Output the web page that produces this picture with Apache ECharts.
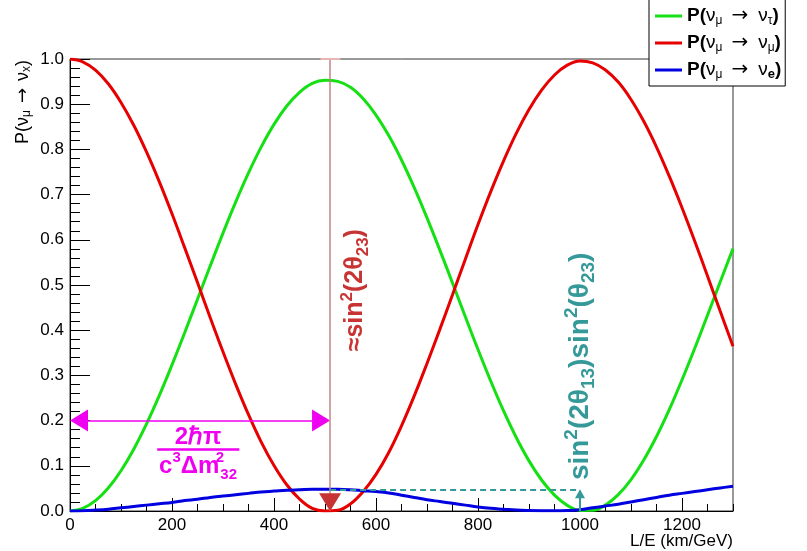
<!DOCTYPE html>
<html><head><meta charset="utf-8">
<script src="https://cdn.jsdelivr.net/npm/echarts@6/dist/echarts.min.js"></script>
<style>html,body{margin:0;padding:0;background:#fff}#c{width:807px;height:551px}</style>
</head><body><div id="c"></div>
<script>
// L/E values (km/GeV)
const L = [0,25,50,75,100,125,150,175,200,225,250,275,300,325,350,375,400,425,450,475,500,525,550,575,600,625,650,675,700,725,750,775,800,825,850,875,900,925,950,975,1000,1025,1050,1075,1100,1125,1150,1175,1200,1225,1250,1275,1300];
// P(nu_mu -> nu_tau)
const pTau = [0,0.0057,0.0228,0.0508,0.0891,0.1367,0.1926,0.2552,0.3233,0.3949,0.4686,0.5424,0.6148,0.6838,0.7479,0.8055,0.8553,0.8959,0.9264,0.9462,0.9530,0.9505,0.9373,0.9119,0.8760,0.8305,0.7766,0.7154,0.6485,0.5777,0.5046,0.4305,0.3573,0.2874,0.2219,0.1626,0.1109,0.0680,0.0350,0.0125,0.0013,0.0016,0.0132,0.0361,0.0695,0.1128,0.1648,0.2243,0.2900,0.3600,0.4332,0.5072,0.5805];
// P(nu_mu -> nu_mu)
const pMu = [1.000,0.9938,0.9752,0.9452,0.9039,0.8533,0.7944,0.7288,0.6577,0.5821,0.5054,0.4276,0.3522,0.2802,0.2131,0.1525,0.1007,0.0581,0.0266,0.0058,0.0000,0.0015,0.0157,0.0431,0.0810,0.1295,0.1884,0.2546,0.3265,0.4013,0.4784,0.5565,0.6337,0.7066,0.7741,0.8354,0.8881,0.9315,0.9647,0.9865,0.9957,0.9914,0.9758,0.9489,0.9105,0.8622,0.8052,0.7407,0.6710,0.5970,0.5198,0.4418,0.3645];
// P(nu_mu -> nu_e)
const pE = [0,0.0005,0.002,0.004,0.007,0.010,0.013,0.016,0.019,0.023,0.026,0.030,0.033,0.036,0.039,0.042,0.044,0.046,0.047,0.048,0.048,0.048,0.047,0.045,0.043,0.040,0.035,0.030,0.025,0.021,0.017,0.013,0.009,0.006,0.004,0.002,0.001,0.0005,0.0003,0.001,0.003,0.007,0.011,0.015,0.020,0.025,0.030,0.035,0.039,0.043,0.047,0.051,0.055];
// annotation values
const peakL = 510, minL = 1000, periodArrowY = 0.2, sin13Y = 0.048;

const FONT = 'Liberation Sans, Arial, Helvetica, sans-serif';
const ARROWFONT = 'DejaVu Sans, sans-serif';
const GREEN = '#14e014', RED = '#e60000', BLUE = '#0000e0';
const MAG = '#f000f0', TEAL = '#369999', DRED = '#c83434', ROSY = '#c48585';

const chart = echarts.init(document.getElementById('c'), null, {renderer: 'canvas'});
const toPairs = arr => L.map((x, i) => [x, arr[i]]);

const legendText = {
  tau: '{b|P(}{n|ν}{s|μ}{a|→}{n|ν}{s|τ}{b|)}',
  mu:  '{b|P(}{n|ν}{s|μ}{a|→}{n|ν}{s|μ}{b|)}',
  e:   '{b|P(}{n|ν}{s|μ}{a|→}{n|ν}{se|e}{b|)}'
};

function richSet(color, main, small) {
  return {
    d: {fontSize: main, fontWeight: 'bold', color: color, fontFamily: FONT, lineHeight: main + 8},
    u: {fontSize: small, fontWeight: 'bold', color: color, fontFamily: FONT, lineHeight: main + 8, verticalAlign: 'top'},
    u0: {fontSize: small, fontWeight: 'bold', color: color, fontFamily: FONT, lineHeight: main + 8, verticalAlign: 'top', width: 1},
    l: {fontSize: small, fontWeight: 'bold', color: color, fontFamily: FONT, lineHeight: main + 8, verticalAlign: 'bottom'}
  };
}
const hidden = {symbol: 'circle', symbolSize: 1, itemStyle: {color: 'rgba(0,0,0,0)'}};

const option = {
  animation: false,
  textStyle: {fontFamily: FONT},
  grid: {left: 70, right: 74, top: 59, bottom: 40, show: true, borderColor: '#333', borderWidth: 1, backgroundColor: 'transparent'},
  legend: {
    data: ['tau', 'mu', 'e'], orient: 'vertical', left: 649, top: -2,
    padding: [8, 4, 5, 6], itemGap: 6, itemWidth: 27, itemHeight: 3, icon: 'rect',
    backgroundColor: '#fff', borderColor: '#000', borderWidth: 1, z: 10,
    formatter: n => legendText[n],
    textStyle: {
      rich: {
        b: {fontSize: 19, fontWeight: 'bold', color: '#000', fontFamily: FONT, lineHeight: 22},
        n: {fontSize: 19, color: '#000', fontFamily: FONT, lineHeight: 22},
        a: {fontSize: 20, color: '#000', fontFamily: ARROWFONT, lineHeight: 22, padding: [0, 10, 0, 9]},
        s: {fontSize: 12, color: '#000', fontFamily: FONT, lineHeight: 22, verticalAlign: 'bottom'},
        se: {fontSize: 13, fontWeight: 'bold', color: '#000', fontFamily: FONT, lineHeight: 22, verticalAlign: 'bottom'}
      }
    }
  },
  xAxis: [
    {type: 'value', min: 0, max: 1300, interval: 200, position: 'bottom',
     axisLine: {show: true, lineStyle: {color: '#000', width: 1}},
     axisTick: {show: true, inside: true, length: 13, lineStyle: {color: '#000'}},
     axisLabel: {show: true, fontSize: 17, color: '#000', margin: 6, fontFamily: FONT, showMaxLabel: false,
       formatter: v => String(v)},
     splitLine: {show: false}},
    {type: 'value', min: 0, max: 1300, interval: 50, position: 'bottom',
     axisLine: {show: false}, axisLabel: {show: false}, splitLine: {show: false},
     axisTick: {show: true, inside: true, length: 7, lineStyle: {color: '#000'}}}
  ],
  yAxis: {type: 'value', min: 0, max: 1, interval: 0.1,
    axisLine: {show: true, lineStyle: {color: '#000', width: 1}},
    axisTick: {show: true, inside: true, length: 20, lineStyle: {color: '#000'}},
    minorTick: {show: true, splitNumber: 5, length: 10, lineStyle: {color: '#000'}},
    axisLabel: {fontSize: 17, color: '#000', margin: 6, fontFamily: FONT, formatter: v => v.toFixed(1)},
    splitLine: {show: false}, minorSplitLine: {show: false}},
  graphic: [
    {type: 'text', x: 23, y: 60, rotation: Math.PI / 2, z: 20,
     style: {text: '{n|P(ν}{s|μ}{a|→}{n|ν}{s|x}{n|)}', align: 'right', verticalAlign: 'middle',
       rich: {n: {fontSize: 18, fill: '#000', fontFamily: FONT, lineHeight: 20},
              a: {fontSize: 18, fill: '#000', fontFamily: ARROWFONT, lineHeight: 20, padding: [0, 7, 0, 7]},
              s: {fontSize: 12, fill: '#000', fontFamily: FONT, lineHeight: 20, verticalAlign: 'bottom'}}}},
    {type: 'text', x: 733, y: 541, z: 20,
     style: {text: 'L/E (km/GeV)', align: 'right', verticalAlign: 'middle', fontSize: 17, fill: '#000', fontFamily: FONT}}
  ],
  series: [
    {name: 'tau', type: 'line', data: toPairs(pTau), smooth: 0.4, showSymbol: false, clip: true,
     lineStyle: {color: GREEN, width: 3}, itemStyle: {color: GREEN}, z: 3},
    {name: 'mu', type: 'line', data: toPairs(pMu), smooth: 0.4, showSymbol: false, clip: true,
     lineStyle: {color: RED, width: 3}, itemStyle: {color: RED}, z: 3},
    {name: 'e', type: 'line', data: toPairs(pE), smooth: 0.4, showSymbol: false, clip: true,
     lineStyle: {color: BLUE, width: 3}, itemStyle: {color: BLUE}, z: 4,
     markLine: {
       silent: true, animation: false, symbol: 'none', label: {show: false}, emphasis: {disabled: true},
       data: [
         [{coord: [17.7, periodArrowY], symbol: 'triangle', symbolSize: [22, 18], lineStyle: {color: MAG, width: 1.5, type: 'solid'}},
          {coord: [peakL - 17.7, periodArrowY], symbol: 'triangle', symbolSize: [22, 18], lineStyle: {color: MAG, width: 1.5, type: 'solid'}}],
         [{coord: [peakL, 1.0], lineStyle: {color: ROSY, width: 1.5, type: 'solid'}},
          {coord: [peakL, 0.0], lineStyle: {color: ROSY, width: 1.5, type: 'solid'}}],
         [{coord: [491, 1.0], lineStyle: {color: '#e8b4b4', width: 2, type: 'solid'}},
          {coord: [530, 1.0], lineStyle: {color: '#e8b4b4', width: 2, type: 'solid'}}],
         [{coord: [peakL, sin13Y], lineStyle: {color: TEAL, width: 2, type: [6, 4]}},
          {coord: [minL, sin13Y], lineStyle: {color: TEAL, width: 2, type: [6, 4]}}],
         [{coord: [minL, 0], lineStyle: {color: TEAL, width: 2, type: 'solid'}},
          {coord: [minL, sin13Y - 0.0099], symbol: 'triangle', symbolSize: [10, 9], lineStyle: {color: TEAL, width: 2, type: 'solid'}}],
         [{coord: [171, 0.136], lineStyle: {color: MAG, width: 2.5, type: 'solid'}},
          {coord: [332, 0.136], lineStyle: {color: MAG, width: 2.5, type: 'solid'}}]
       ]
     },
     markPoint: {
       silent: true, animation: false,
       data: [
         {coord: [peakL, 0.0195], symbol: 'triangle', symbolSize: [22, 18], symbolRotate: 180,
          itemStyle: {color: DRED}, label: {show: false}},
         Object.assign({coord: [251, 0.163], label: {show: true, position: 'inside', formatter: '2ℏπ',
           fontSize: 24, fontWeight: 'bold', color: MAG, fontFamily: FONT}}, hidden),
         Object.assign({coord: [251, 0.0995], label: {show: true, position: 'inside',
           formatter: '{d|c}{u|3}{d|Δm}{u0|2}{l|32}', rich: richSet(MAG, 24, 15)}}, hidden),
         Object.assign({coord: [559, 0.4885], label: {show: true, position: 'inside', rotate: 90,
           formatter: '{d|≈sin}{u|2}{d|(2θ}{l|23}{d|)}', rich: richSet(DRED, 25, 17)}}, hidden),
         Object.assign({coord: [1001, 0.32], label: {show: true, position: 'inside', rotate: 90,
           formatter: '{d|sin}{u|2}{d|(2θ}{l|13}{d|)sin}{u|2}{d|(θ}{l|23}{d|)}', rich: richSet(TEAL, 28, 19)}}, hidden)
       ]
     }}
  ]
};
chart.setOption(option);
</script></body></html>
